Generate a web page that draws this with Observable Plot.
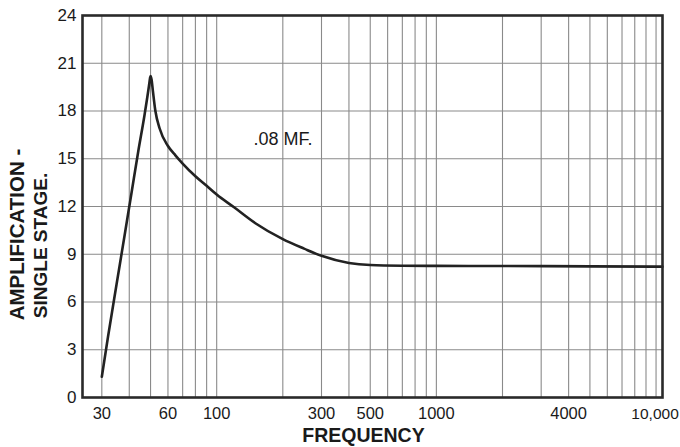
<!DOCTYPE html>
<html>
<head>
<meta charset="utf-8">
<script src="https://cdn.jsdelivr.net/npm/d3@7"></script>
<script src="https://cdn.jsdelivr.net/npm/@observablehq/plot@0.6"></script>
<style>
  html, body { margin: 0; padding: 0; background: #fff; }
</style>
</head>
<body>
<div id="chart"></div>
<script>
// Frequency (Hz) and amplification
const freq = [30, 32, 35, 38, 41, 44, 47, 49.2, 49.7, 50, 50.5, 51.2, 52.6, 55, 60, 65, 70, 80, 90, 100, 120, 150, 200, 250, 300, 400, 500, 700, 1000, 2000, 5000, 10700];
const amp  = [1.3, 3.8, 7.1, 10.1, 12.9, 15.5, 17.8, 19.6, 20.05, 20.2, 20.0, 19.3, 18, 16.9, 15.8, 15.2, 14.7, 13.9, 13.3, 12.75, 11.95, 10.95, 9.95, 9.35, 8.9, 8.45, 8.32, 8.28, 8.27, 8.26, 8.24, 8.22];

const gridX = [30, 40, 50, 60, 70, 80, 90, 100, 200, 300, 400, 500, 600, 700, 800, 900, 1000,
               2000, 3000, 4000, 5000, 6000, 7000, 8000, 9000, 10000];
const gridY = [3, 6, 9, 12, 15, 18, 21];
const xTicks = [30, 60, 100, 300, 500, 1000, 4000];
const xTickLabels = ["30", "60", "100", "300", "500", "1000", "4000"];
const xLastTick = 10000;
const xLastLabel = "10,000";
const yTicks = [0, 3, 6, 9, 12, 15, 18, 21, 24];
const note = {f: 147, a: 15.85, text: ".08 MF."};

const curve = freq.map((f, i) => ({f, a: amp[i]}));
const xLabels = xTicks.map((t, i) => ({t, label: xTickLabels[i]}));

const font = "'Liberation Sans', Arial, sans-serif";
const chart = Plot.plot({
  width: 680,
  height: 447,
  marginLeft: 82,
  marginRight: 18,
  marginTop: 15,
  marginBottom: 50,
  style: {fontFamily: font, background: "#fff", color: "#1a1a1a"},
  x: {type: "log", domain: [24.5, 10700], axis: null},
  y: {domain: [0, 24], axis: null},
  marks: [
    Plot.ruleX(gridX, {stroke: "#8a8a8a", strokeWidth: 1.1}),
    Plot.ruleY(gridY, {stroke: "#8a8a8a", strokeWidth: 1.1}),
    Plot.line(curve, {x: "f", y: "a", stroke: "#222", strokeWidth: 2.6, curve: "monotone-x"}),
    Plot.frame({stroke: "#2a2a2a", strokeWidth: 2.6}),
    Plot.text(xLabels, {x: "t", text: "label", frameAnchor: "bottom", dy: 10, lineAnchor: "top", textAnchor: "middle", fontSize: 16.5, fill: "#1a1a1a"}),
    Plot.text([xLastTick], {x: d => d, text: () => xLastLabel, frameAnchor: "bottom", dx: -1, dy: 10, lineAnchor: "top", textAnchor: "middle", fontSize: 15.5, fill: "#1a1a1a"}),
    Plot.text(yTicks, {y: d => d, text: d => String(d), frameAnchor: "left", dx: -6, textAnchor: "end", lineAnchor: "middle", fontSize: 17, fill: "#1a1a1a"}),
    Plot.text([note], {x: "f", y: "a", text: "text", textAnchor: "start", lineAnchor: "bottom", fontSize: 18, fill: "#1a1a1a"}),
    Plot.text(["FREQUENCY"], {frameAnchor: "bottom", dx: -9, dy: 44, textAnchor: "middle", lineAnchor: "bottom", fontSize: 19.5, fontWeight: "bold", fill: "#1a1a1a"}),
    Plot.text(["AMPLIFICATION -"], {frameAnchor: "left", dx: -65, dy: 28, rotate: -90, textAnchor: "middle", lineAnchor: "middle", fontSize: 20.5, fontWeight: "bold", fill: "#1a1a1a"}),
    Plot.text(["SINGLE STAGE."], {frameAnchor: "left", dx: -42, dy: 39, rotate: -90, textAnchor: "middle", lineAnchor: "middle", fontSize: 19, fontWeight: "bold", fill: "#1a1a1a"})
  ]
});
document.getElementById("chart").appendChild(chart);
</script>
</body>
</html>
